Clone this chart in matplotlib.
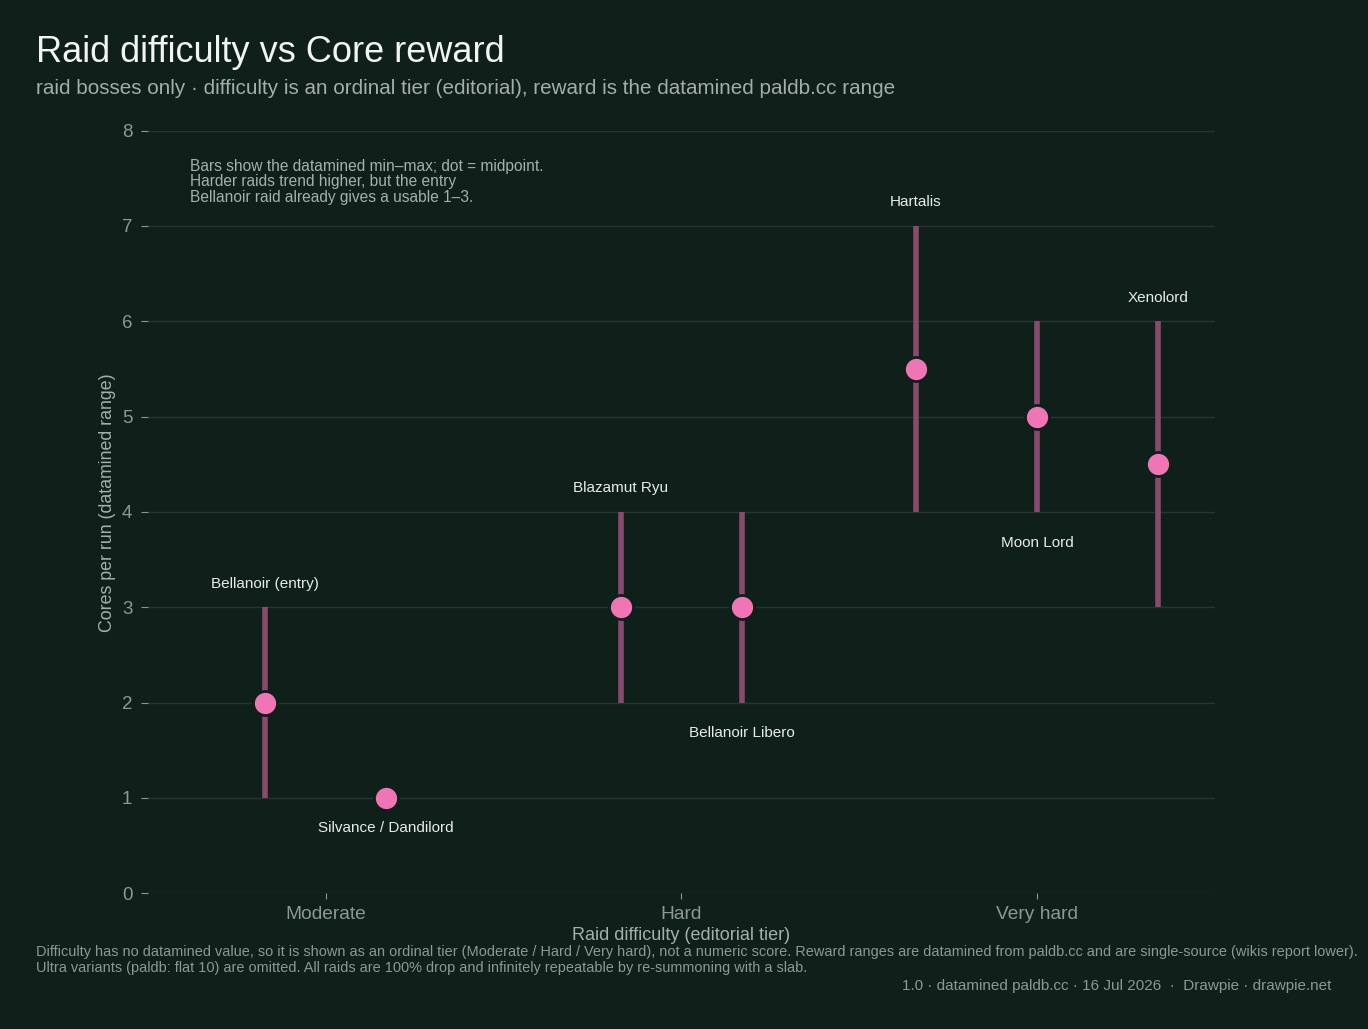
import numpy as np
import matplotlib
matplotlib.use("Agg")
import matplotlib.pyplot as plt

# dữ liệu
tiers = ["Moderate", "Hard", "Very hard"]
names = ["Bellanoir (entry)", "Silvance / Dandilord", "Blazamut Ryu",
         "Bellanoir Libero", "Hartalis", "Moon Lord", "Xenolord"]
tier_idx = [0, 0, 1, 1, 2, 2, 2]
core_min = [1, 1, 2, 2, 4, 4, 3]
core_max = [3, 1, 4, 4, 7, 6, 6]
label_above = [True, False, True, False, True, False, True]

bg = "#0f1f1a"
grid_c = "#243630"
bar_c = "#8a4a6e"
dot_c = "#f075b5"
muted = "#8d9893"

plt.rcParams['font.family'] = ['Liberation Sans', 'DejaVu Sans']

fig = plt.figure(figsize=(13.68, 10.29), dpi=100, facecolor=bg)
ax = fig.add_axes([0.108, 0.132, 0.78, 0.741], facecolor=bg)

# vị trí x: dàn đều các điểm trong cùng một tier
xs = []
for i, t in enumerate(tier_idx):
    members = [j for j, tt in enumerate(tier_idx) if tt == t]
    k = members.index(i)
    xs.append(t + (k - (len(members) - 1) / 2) * 0.34)

mid = [(a + b) / 2 for a, b in zip(core_min, core_max)]

for x, lo, hi in zip(xs, core_min, core_max):
    if hi > lo:
        ax.plot([x, x], [lo, hi], color=bar_c, lw=4, solid_capstyle="butt", zorder=2)
ax.scatter(xs, mid, s=300, color=dot_c, edgecolor=bg, linewidth=2, zorder=3)

for x, lo, hi, m, name, up in zip(xs, core_min, core_max, mid, names, label_above):
    if up:
        ax.annotate(name, (x, hi), xytext=(0, 12), textcoords="offset points",
                    ha="center", va="bottom", color="#e8ece9", fontsize=11)
    else:
        ax.annotate(name, (x, min(lo, m)), xytext=(0, -17), textcoords="offset points",
                    ha="center", va="top", color="#e8ece9", fontsize=11)

ax.text(0.04, 0.963, "Bars show the datamined min\u2013max; dot = midpoint.\n"
        "Harder raids trend higher, but the entry\n"
        "Bellanoir raid already gives a usable 1\u20133.",
        transform=ax.transAxes, ha="left", va="top", color="#a6b0ab",
        fontsize=11.2, linespacing=1.05)

ax.set_xlim(-0.5, 2.5)
ax.set_ylim(0, 8)
ax.set_xticks(range(len(tiers)))
ax.set_xticklabels(tiers)
ax.set_yticks(range(0, 9))
ax.grid(axis="y", color=grid_c, lw=1)
ax.grid(axis="x", visible=False)
ax.set_axisbelow(True)
for s in ax.spines.values():
    s.set_visible(False)
ax.tick_params(axis="y", colors=muted, labelsize=13.5, length=5, pad=6)
ax.tick_params(axis="x", colors=muted, labelsize=13.8, length=4, pad=5)
ax.set_xlabel("Raid difficulty (editorial tier)", color="#a6b0ab", fontsize=13, labelpad=3)
ax.set_ylabel("Cores per run (datamined range)", color="#a6b0ab", fontsize=12.8)
ax.yaxis.set_label_coords(-0.03, 0.512)

fig.text(36 / 1368, 1 - 52 / 1029, "Raid difficulty vs Core reward", color="#f2f4f3",
         fontsize=26, ha="left", va="center")
fig.text(36 / 1368, 1 - 89 / 1029,
         "raid bosses only \u00b7 difficulty is an ordinal tier (editorial), reward is the datamined paldb.cc range",
         color="#a3aea9", fontsize=14.9, ha="left", va="center")

fig.text(36 / 1368, 1 - 945 / 1029,
         "Difficulty has no datamined value, so it is shown as an ordinal tier (Moderate / Hard / Very hard), not a numeric score. "
         "Reward ranges are datamined from paldb.cc and are single-source (wikis report lower).\n"
         "Ultra variants (paldb: flat 10) are omitted. All raids are 100% drop and infinitely repeatable by re-summoning with a slab.",
         color=muted, fontsize=10.45, ha="left", va="top", linespacing=1.15)
fig.text(1331 / 1368, 1 - 986 / 1029,
         "1.0 \u00b7 datamined paldb.cc \u00b7 16 Jul 2026  \u00b7  Drawpie \u00b7 drawpie.net",
         color=muted, fontsize=11, ha="right", va="center")

fig.savefig("out.png", dpi=100, facecolor=bg)
